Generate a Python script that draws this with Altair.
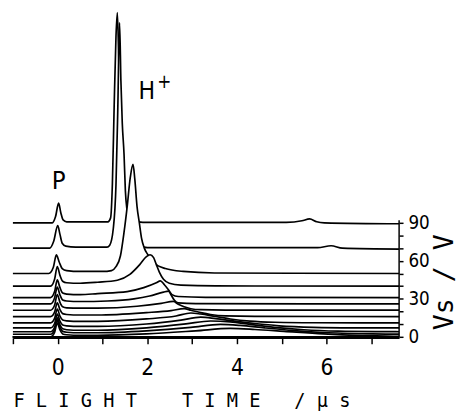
import altair as alt
import pandas as pd

# Offsets (Vs / V) of the stacked traces, back (top) to front (bottom)
VS = [90, 70, 50, 40, 31, 26, 21, 16, 11, 7, 4, 2, 0]

# Flight time (us) and signal height (in Vs-axis units)
T90 = [-1.2, -0.12, -0.05, 0.02, 0.07, 0.12, 0.2, 1.12, 1.18, 1.22, 1.26, 1.3, 1.33, 1.36, 1.4, 1.46, 1.55, 1.7, 1.9, 5.1, 5.45, 5.62, 5.78, 5.95, 7.8]
H90 = [0, 0, 4.7, 15.5, 7.8, 2.3, 0.8, 0.8, 3.9, 31, 93, 147, 166, 132, 70, 23, 7.8, 2.3, 0.4, 0.4, 1.6, 3.1, 0.8, 0, -0.8]
T70 = [-1.2, -0.18, -0.09, 0.0, 0.05, 0.1, 0.18, 0.4, 1.1, 1.16, 1.24, 1.3, 1.34, 1.38, 1.41, 1.44, 1.48, 1.51, 1.55, 1.62, 1.72, 1.85, 2.0, 5.8, 6.1, 6.35, 7.8]
H70 = [0, 0, 5.4, 17.8, 10.9, 3.9, 1.6, 0.8, 0.8, 2.3, 15.5, 50, 109, 178, 132, 99, 74, 45, 29, 15.5, 6.2, 1.6, 0.4, 0.4, 1.9, 0, -0.8]
T50 = [-1.2, -0.2, -0.1, -0.03, 0.03, 0.1, 0.2, 0.5, 1.0, 1.2, 1.3, 1.4, 1.48, 1.55, 1.62, 1.68, 1.72, 1.77, 1.82, 1.87, 1.93, 2.0, 2.15, 2.4, 2.8, 3.5, 7.8]
H50 = [0, 0, 4.7, 14.7, 9.3, 3.9, 2.3, 1.6, 1.6, 2.3, 5.4, 14, 32.6, 52.8, 76, 86.1, 74.5, 52.8, 40.3, 27.9, 20.2, 15.5, 8.5, 3.9, 1.6, 0.4, 0]
T40 = [-1.2, -0.16, -0.07, -0.01, 0.05, 0.11, 0.2, 0.5, 0.89, 1.33, 1.61, 1.83, 1.98, 2.06, 2.14, 2.2, 2.27, 2.36, 2.49, 2.75, 3.52, 7.8]
H40 = [0, 0, 5.4, 15.5, 8.5, 3.9, 2.7, 2.3, 3.1, 4.7, 9.3, 17, 23.3, 24.8, 22.5, 17, 10.9, 5.4, 2.3, 0.8, 0.2, 0]
T31 = [-1.2, -0.16, -0.07, -0.01, 0.05, 0.11, 0.2, 0.5, 0.89, 1.55, 1.92, 2.2, 2.29, 2.38, 2.47, 2.55, 2.69, 3.3, 7.8]
H31 = [0, 0, 4.7, 14, 7.8, 3.5, 2.7, 2.3, 3.1, 4.7, 7.8, 11.6, 13.2, 10.1, 6.2, 2.3, 0.8, 0.2, 0]
T26 = [-1.2, -0.16, -0.07, -0.01, 0.05, 0.11, 0.2, 0.5, 1.11, 1.70, 2.05, 2.36, 2.47, 2.53, 2.6, 2.69, 3.08, 7.8]
H26 = [0, 0, 4.7, 13.2, 7, 3.1, 2.3, 1.9, 2.3, 3.9, 6.2, 9.3, 10.1, 7, 3.1, 0.8, 0.2, 0]
T21 = [-1.2, -0.16, -0.07, -0.01, 0.05, 0.11, 0.2, 0.5, 0.89, 1.77, 2.31, 2.58, 2.69, 2.82, 2.97, 3.19, 3.74, 7.8]
H21 = [0, 0, 3.9, 12.4, 6.2, 2.7, 1.9, 1.6, 1.6, 3.1, 5.4, 7, 4.7, 2.7, 1.2, 0.4, 0.1, 0]
T16 = [-1.2, -0.16, -0.07, -0.01, 0.05, 0.11, 0.2, 0.5, 0.89, 1.98, 2.53, 2.82, 2.97, 3.19, 3.41, 3.74, 4.4, 7.8]
H16 = [0, 0, 3.5, 10.9, 5.4, 2.3, 1.6, 1.2, 1.2, 3.1, 4.7, 6.2, 5, 3.1, 1.6, 0.5, 0.1, 0]
T11 = [-1.2, -0.16, -0.07, -0.01, 0.05, 0.11, 0.2, 0.5, 0.89, 1.98, 2.64, 2.97, 3.19, 3.52, 3.85, 4.29, 4.84, 5.71, 7.8]
H11 = [0, 0, 3.5, 10.9, 5.4, 2.3, 1.6, 1.2, 1.2, 3.1, 5.4, 7.8, 7, 5, 3.1, 1.4, 0.5, 0.1, 0]
T7 = [-1.2, -0.16, -0.07, -0.01, 0.05, 0.11, 0.2, 0.5, 0.89, 1.98, 2.75, 3.19, 3.52, 3.95, 4.4, 4.94, 5.71, 6.59, 7.8]
H7 = [0, 0, 3.5, 10.9, 5.4, 2.3, 1.6, 1.2, 1.2, 3.1, 6.2, 8.5, 7.4, 5.4, 3.5, 1.7, 0.5, 0.1, 0]
T4 = [-1.2, -0.16, -0.07, -0.01, 0.05, 0.11, 0.2, 0.5, 0.89, 1.98, 2.86, 3.41, 3.85, 4.29, 4.84, 5.49, 6.26, 7.24, 7.8]
H4 = [0, 0, 3.5, 10.9, 5.4, 2.3, 1.6, 1.2, 1.2, 3.1, 6.2, 8.5, 7.8, 5.8, 3.5, 1.6, 0.5, 0.1, 0]
T2 = [-1.2, -0.16, -0.07, -0.01, 0.05, 0.11, 0.2, 0.5, 0.89, 1.98, 2.97, 3.63, 4.07, 4.62, 5.27, 6.04, 7.02, 7.8]
H2 = [0, 0, 3.5, 10.9, 5.4, 2.3, 1.6, 1.2, 1.2, 2.7, 5.4, 7.8, 7, 5, 2.9, 1.2, 0.3, 0.1]
T0 = [-1.2, -0.16, -0.07, -0.01, 0.05, 0.11, 0.2, 0.5, 0.89, 1.98, 3.08, 3.85, 4.4, 5.05, 5.93, 6.81, 7.69, 7.8]
H0 = [0, 0, 3.5, 10.9, 5.4, 2.3, 1.6, 1.2, 1.2, 2.3, 4.7, 6.6, 5.8, 4.3, 2.3, 1.0, 0.3, 0.3]

TIMES = [T90, T70, T50, T40, T31, T26, T21, T16, T11, T7, T4, T2, T0]
HEIGHTS = [H90, H70, H50, H40, H31, H26, H21, H16, H11, H7, H4, H2, H0]

X_TICKS = [-1, 0, 1, 2, 3, 4, 5, 6, 7]
Y_TICKS = [0, 10, 20, 30, 40, 50, 60, 70, 80, 90]
X_TITLE = "\u00a0".join("FLIGHT") + "\u00a0" * 4 + "\u00a0".join("TIME") + "\u00a0" * 3 + "/\u00a0\u00b5\u00a0s"
Y_TITLE = "Vs / V"
LABELS = ["P", "H", "+"]

NARROW = "Liberation Sans Narrow, DejaVu Sans Condensed, sans-serif"
MONO = "DejaVu Sans Mono, Liberation Mono, monospace"

W, H = 393, 332
X_MAX = 7.618
x_scale = alt.Scale(domain=[-1.0, X_MAX], nice=False, zero=False)
y_scale = alt.Scale(domain=[-0.78, 256.8], nice=False, zero=False)

x_axis = alt.Axis(
    values=X_TICKS, grid=False, format="d",
    labelExpr="(datum.value % 2 === 0 && datum.value >= 0) ? datum.label : ''",
    tickSize=6, tickWidth=1.5, tickColor="black",
    domainWidth=1.5, domainColor="black",
    labelFont=NARROW, labelFontSize=23, labelColor="black", labelPadding=13,
    labelFlush=False, labelOverlap=False,
    titleFont=MONO, titleFontSize=19, titleFontWeight="normal", titleColor="black",
    titleAlign="left", titleX=0, titleY=70, titleBaseline="alphabetic",
    zindex=1,
)
y_axis = alt.Axis(
    orient="right", values=Y_TICKS, grid=False, domain=False, format="d",
    labelExpr="(datum.value % 30 === 0) ? datum.label : ''",
    tickSize=4, tickWidth=1.5, tickColor="black",
    labelFont=NARROW, labelFontSize=19, labelColor="black", labelPadding=5,
    labelFlush=False, labelOverlap=False,
    titleFont=MONO, titleFontSize=27, titleFontWeight="normal", titleColor="black",
    titleAngle=270, titleX=46, titleY=275, titleAlign="center", titleBaseline="middle",
    zindex=1,
)

def xenc():
    return alt.X("t:Q", scale=x_scale, axis=x_axis, title=X_TITLE)

def yenc(field="y"):
    return alt.Y(field + ":Q", scale=y_scale, axis=y_axis, title=Y_TITLE)

rows = []
for i, (vs, ts, hs) in enumerate(zip(VS, TIMES, HEIGHTS)):
    for t, h in zip(ts, hs):
        rows.append({"trace": i, "vs": vs, "t": t, "y": vs + h})
df = pd.DataFrame(rows)

layers = []
for i in range(len(VS)):
    layers.append(
        alt.Chart(df[df["trace"] == i]).mark_area(
            fill="white", stroke="black", strokeWidth=1.7, interpolate="monotone",
            clip=True, strokeJoin="round",
        ).encode(x=xenc(), y=yenc(), y2=alt.value(H + 40))
    )

rule_df = pd.DataFrame({"t": [X_MAX], "y": [0], "y2": [92]})
axis_line = alt.Chart(rule_df).mark_rule(color="black", strokeWidth=1.5, clip=False).encode(
    x=xenc(), y=yenc(), y2="y2:Q"
)

def label_layer(text, t, y, size, align, baseline):
    d = pd.DataFrame({"t": [t], "y": [y], "label": [text]})
    return alt.Chart(d).mark_text(font=NARROW, fontSize=size, align=align,
                                  baseline=baseline, color="black").encode(
        x=xenc(), y=yenc(), text="label:N"
    )

lab_p = label_layer(LABELS[0], 0.02, 117, 26, "center", "alphabetic")
lab_h = label_layer(LABELS[1], 1.80, 187.7, 25, "left", "alphabetic")
lab_plus = label_layer(LABELS[2], 2.38, 201, 19, "center", "middle")

chart = alt.layer(*layers, axis_line, lab_p, lab_h, lab_plus).properties(
    width=W, height=H,
    padding={"left": 5, "top": 0, "right": 64, "bottom": 78},
    autosize=alt.AutoSizeParams(type="none"),
    background="white",
).configure_view(strokeWidth=0)

chart.save("out.html", embed_options={"renderer": "svg", "actions": False})
